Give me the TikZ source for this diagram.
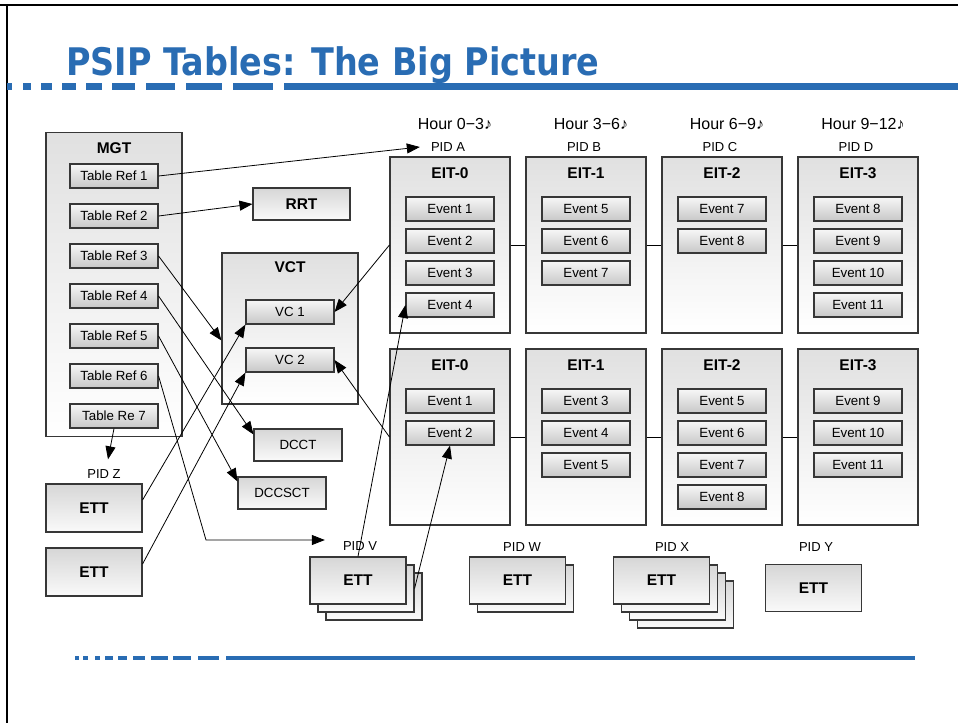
\documentclass[tikz,border=0pt]{standalone}
\usepackage{fontspec}
\setmainfont{Liberation Sans}
\newfontfamily\titlefont{DejaVu Sans}[FakeStretch=0.88]
\usepackage{tikz}
\usetikzlibrary{positioning,calc,arrows.meta}
\definecolor{PSIPBlue}{RGB}{41,108,179}
\definecolor{BoxLine}{RGB}{55,55,55}

\begin{document}
\begin{tikzpicture}[x=1pt,y=-1pt,
		outerbox/.style={draw=BoxLine, line width=1.1pt, top color=black!12, bottom color=white, inner sep=0},
		refbox/.style={draw=BoxLine, line width=1.1pt, top color=black!3, bottom color=black!22, minimum width=88, minimum height=24, inner sep=0, font=\fontsize{13.3}{15}\selectfont},
		tblbox/.style={draw=BoxLine, line width=1.1pt, top color=black!16, bottom color=black!2, minimum width=88, minimum height=32, inner sep=0, font=\fontsize{13.3}{15}\selectfont},
		ettbox/.style={tblbox, minimum width=96, minimum height=47, font=\bfseries\fontsize{15.5}{17}\selectfont},
		btitle/.style={font=\bfseries\fontsize{15.5}{17}\selectfont, inner sep=0},
		pid/.style={font=\fontsize{13}{15}\selectfont, inner sep=1},
		hour/.style={font=\fontsize{16}{18}\selectfont, inner sep=0},
		link/.style={line width=0.8pt},
		arr/.style={link, -{Triangle[length=13pt,width=10pt]}}
		]
		\useasboundingbox (0,0) rectangle (958,723);
		
		% ===== khung trang + tiêu đề =====
		\draw[line width=2.5] (0,5) -- (958,5);
		\draw[line width=2] (7,5) -- (7,723);
		\node[anchor=base west, inner sep=0, text=PSIPBlue, font=\titlefont\bfseries\fontsize{38}{41}\selectfont] (title) at (66,75) {PSIP Tables: The Big Picture};
		
		\foreach \a/\b in {7/12,23/31,41/52,62/76,86/102,112/135,146/175,186/222,233/273,284/958}
			\draw[PSIPBlue, line width=6.5] (\a,86.5) -- (\b,86.5);
		\foreach \a/\b in {75/79,83/88,95/100,105/113,118/127,133/145,151/168,173/191,198/219,226/915}
			\draw[PSIPBlue, line width=4.5] (\a,658) -- (\b,658);
		
		% ===== MGT =====
		\node[outerbox, minimum width=136, minimum height=304] (mgt) at (114,284.5) {};
		\node[btitle] at ($(mgt.north)+(0,16)$) {MGT};
		\foreach \t [count=\i] in {Table Ref 1,Table Ref 2,Table Ref 3,Table Ref 4,Table Ref 5,Table Ref 6,Table Re 7}
			\node[refbox] (ref\i) at (114,{136+40*\i}) {\t};
		
		% ===== RRT, VCT, DCCT, DCCSCT =====
		\node[tblbox, minimum width=97, font=\bfseries\fontsize{15.5}{17}\selectfont] (rrt) at (301.5,204) {RRT};
		\node[outerbox, minimum width=136, minimum height=151] (vct) at (290,328.5) {};
		\node[btitle] at ($(vct.north)+(0,15)$) {VCT};
		\node[refbox] (vc1) at (290,312) {VC 1};
		\node[refbox] (vc2) at (290,360) {VC 2};
		\node[tblbox] (dcct) at (298,445) {DCCT};
		\node[tblbox] (dccsct) at (282,493) {DCCSCT};
		
		% ===== ETT bên trái =====
		\node[pid] (pidZ) at (104,474) {PID Z};
		\node[ettbox, minimum height=48] (ettL1) at (94,508) {ETT};
		\node[ettbox, minimum height=48] (ettL2) at (94,572) {ETT};
		
		% ===== EIT: hai hàng =====
		\foreach \h/\p [count=\i from 0] in {0−3/A,3−6/B,6−9/C,9−12/D}{
			\node[hour] at ({455+136*\i},124) {Hour \h♪};
			\node[pid] (pid\p) at ({448+136*\i},147) {PID \p};
		}
		\foreach \evs [count=\i from 0] in {{1,2,3,4},{5,6,7},{7,8},{8,9,10,11}}{
			\node[outerbox, minimum width=120, minimum height=176] (eT\i) at ({450+136*\i},245) {};
			\node[btitle] at ({450+136*\i},173) {EIT-\i};
			\foreach \e [count=\j] in \evs
				\node[refbox] (eT\i-\j) at ({450+136*\i},{177+32*\j}) {Event \e};
		}
		\foreach \evs [count=\i from 0] in {{1,2},{3,4,5},{5,6,7,8},{9,10,11}}{
			\node[outerbox, minimum width=120, minimum height=176] (eB\i) at ({450+136*\i},437) {};
			\node[btitle] at ({450+136*\i},365) {EIT-\i};
			\foreach \e [count=\j] in \evs
				\node[refbox] (eB\i-\j) at ({450+136*\i},{369+32*\j}) {Event \e};
		}
		\foreach \i [count=\k from 1] in {0,1,2}{
			\draw[link] (eT\i.east) -- (eT\k.west);
			\draw[link] (eB\i.east) -- (eB\k.west);
		}
		
		% ===== ETT dưới: chồng bảng =====
		\foreach \nm/\x/\n in {V/358/2,W/517.5/1,X/661.5/3}{
			\foreach \j in {\n,...,1}
				\node[ettbox] (ett\nm\j) at ({\x+8*\j},{580.5+8*\j}) {};
			\node[ettbox] (ett\nm) at (\x,580.5) {ETT};
		}
		\node[ettbox] (ettY) at (813.5,588) {ETT};
		\node[pid] (pidV) at (360,546) {PID V};
		\node[pid] (pidW) at (522,547) {PID W};
		\node[pid] (pidX) at (672,547) {PID X};
		\node[pid] (pidY) at (816,547) {PID Y};
		
		% ===== mũi tên =====
		\draw[arr] (ref1.east) -- ($(pidA.west)+(-10,0)$);
		\draw[arr] (ref2.east) -- (rrt.west);
		\draw[arr] (ref3.east) -- ($(vct.west)+(0,12)$);
		\draw[arr] (ref4.east) -- ($(dcct.north west)+(0,6)$);
		\draw[arr] (ref5.east) -- ($(dccsct.north west)+(0,5)$);
		\coordinate (vbend) at (206,540);
		\draw[arr] (ref6.east) -- (vbend) -- ($(pidV.west)+(-17,-6)$);
		\draw[arr] (ref7.south) -- ($(pidZ.north)+(4,-9)$);
		
		\draw[arr] ($(ettL1.east)+(0,-8)$) -- (vc1.south west);
		\draw[arr] ($(ettL2.east)+(0,-8)$) -- (vc2.south west);
		\draw[arr] (eT0.west) -- (vc1.east);
		\draw[arr] (eB0.west) -- (vc2.east);
		
		\draw[arr] (ettV.north) -- (eT0-4.west);
		\draw[arr] (ettV1.east) -- (eB0-2.south);
		
	\end{tikzpicture}
\end{document}
